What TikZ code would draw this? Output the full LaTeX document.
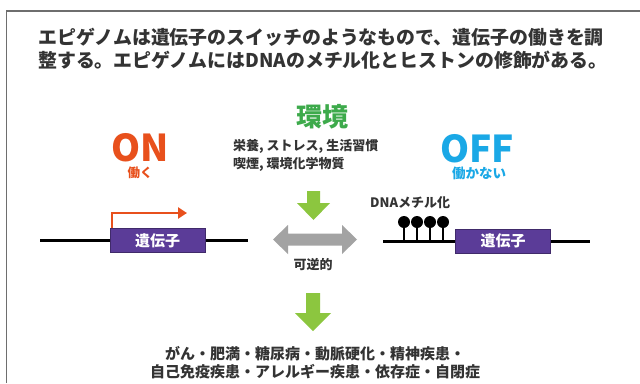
\documentclass[tikz,border=0pt]{standalone}
\usepackage{fontspec}
\setmainfont{Noto Sans CJK JP}
\usetikzlibrary{arrows.meta}
\definecolor{framegray}{HTML}{6E6E6E}
\definecolor{txt}{HTML}{333333}
\definecolor{envgreen}{HTML}{3DAA4B}
\definecolor{arrgreen}{HTML}{8CC63F}
\definecolor{onred}{HTML}{E8501C}
\definecolor{offblue}{HTML}{1AA8E6}
\definecolor{genepurple}{HTML}{5B3C98}
\definecolor{revgray}{HTML}{A3A3A3}
\tikzset{
  lbl/.style={inner sep=0pt, font=\bfseries, text=txt},
  genebox/.style={fill=genepurple, draw=genepurple!70!black, line width=0.6pt, minimum width=95pt, minimum height=24pt, inner sep=0pt, text=white, font=\bfseries\fontsize{15}{17}\selectfont},
  dnaline/.style={line width=3pt, black},
  promo/.style={line width=2.4pt, onred, -{Triangle[length=9pt,width=11pt]}},
  stem/.style={line width=1.2pt, black},
  bead/.style={circle, fill=black, minimum size=12pt, inner sep=0pt},
  fatgreen/.style={fill=arrgreen},
  fatgray/.style={fill=revgray}
}
\begin{document}
\begin{tikzpicture}[x=1pt,y=-1pt]
\useasboundingbox (0,0) rectangle (640,383);
\fill[white] (0,0) rectangle (640,383);
\draw[framegray, line width=1.6pt] (6.5,383) -- (6.5,11) -- (640,11);

% title
\node[lbl, anchor=west, font=\bfseries\fontsize{18.9}{20}\selectfont] (t1) at (38,37) {エピゲノムは遺伝子のスイッチのようなもので、遺伝子の働きを調};
\node[lbl, anchor=west, font=\bfseries\fontsize{18.9}{20}\selectfont] (t2) at (38,60) {整する。エピゲノムにはDNAのメチル化とヒストンの修飾がある。};

% environment
\node[lbl, text=envgreen, font=\bfseries\fontsize{26}{28}\selectfont] (env) at (322,117) {環境};
\node[lbl, anchor=west, font=\bfseries\fontsize{13}{15}\selectfont] (e1) at (233,146) {栄養, ストレス, 生活習慣};
\node[lbl, anchor=west, font=\bfseries\fontsize{13}{15}\selectfont] (e2) at (233,164) {喫煙, 環境化学物質};

% ON / OFF
\node[lbl, text=onred, font=\bfseries\fontsize{37}{40}\selectfont] (on) at (140,148) {ON};
\node[lbl, text=onred, font=\bfseries\fontsize{12.5}{14}\selectfont] (onj) at (140,173) {働く};
\node[lbl, text=offblue, font=\bfseries\fontsize{37}{40}\selectfont] (off) at (477,149) {OFF};
\node[lbl, text=offblue, font=\bfseries\fontsize{13.5}{15}\selectfont] (offj) at (479,173) {働かない};

% green arrow 1
\fill[fatgreen] (307,191) -- (320,191) -- (320,203) -- (330,203) -- (313.5,220) -- (297,203) -- (307,203) -- cycle;

% left gene
\coordinate (la) at (40,240);
\coordinate (lb) at (248,240);
\draw[dnaline] (la) -- (lb);
\node[genebox] (g1) at (157.5,240.5) {遺伝子};
\coordinate (p1) at (187,213);
\draw[promo] ([xshift=2pt]g1.north west) |- (p1);

% reversible arrow
\fill[fatgray] (273,239.5) -- (288,225) -- (288,233.5) -- (342,233.5) -- (342,225) -- (357,239.5) -- (342,254) -- (342,245.5) -- (288,245.5) -- (288,254) -- cycle;
\node[lbl, font=\bfseries\fontsize{13}{15}\selectfont] (rev) at (313,265) {可逆的};

% right gene
\coordinate (ra) at (383,241);
\coordinate (rb) at (590,241);
\draw[dnaline] (ra) -- (rb);
\node[genebox] (g2) at (503,241) {遺伝子};
\node[lbl, anchor=west, font=\bfseries\fontsize{13}{15}\selectfont] (meth) at (370,203) {DNAメチル化};
\foreach \i/\x in {1/404,2/417,3/430,4/443}{
  \node[bead] (m\i) at (\x,222) {};
  \coordinate (s\i) at (\x,241);
  \draw[stem] (m\i) -- (s\i);
}

% green arrow 2
\fill[fatgreen] (306,293) -- (320,293) -- (320,313) -- (331,313) -- (313,331) -- (295,313) -- (306,313) -- cycle;

% diseases
\node[lbl, font=\bfseries\fontsize{15}{17}\selectfont] (d1) at (315,354) {がん・肥満・糖尿病・動脈硬化・精神疾患・};
\node[lbl, font=\bfseries\fontsize{15}{17}\selectfont] (d2) at (315,372) {自己免疫疾患・アレルギー疾患・依存症・自閉症};
\end{tikzpicture}
\end{document}
